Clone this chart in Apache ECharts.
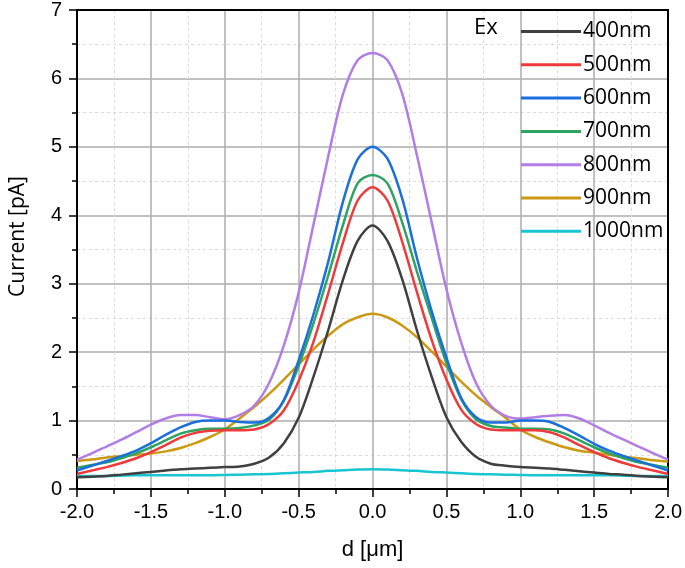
<!DOCTYPE html>
<html>
<head>
<meta charset="utf-8">
<script src="https://cdn.jsdelivr.net/npm/echarts@6/dist/echarts.min.js"></script>
<style>html,body{margin:0;padding:0;background:#fff}#c{width:685px;height:568px}</style>
</head>
<body>
<div id="c"></div>
<script>
const xValues = [-2.0,-1.9,-1.8,-1.7,-1.6,-1.5,-1.4,-1.3,-1.2,-1.1,-1.0,-0.9,-0.8,-0.7,-0.6,-0.5,-0.4,-0.3,-0.2,-0.1,
  0.0,0.1,0.2,0.3,0.4,0.5,0.6,0.7,0.8,0.9,1.0,1.1,1.2,1.3,1.4,1.5,1.6,1.7,1.8,1.9,2.0];
const seriesNames = ['400nm','500nm','600nm','700nm','800nm','900nm','1000nm'];
const s400 = [0.17,0.18,0.19,0.21,0.23,0.25,0.27,0.29,0.30,0.31,0.32,0.33,0.37,0.46,0.67,1.04,1.64,2.32,3.06,3.63,
  3.85,
  3.63,3.07,2.32,1.64,1.05,0.69,0.47,0.37,0.34,0.32,0.31,0.30,0.28,0.26,0.24,0.22,0.21,0.19,0.18,0.17];
const s500 = [0.22,0.27,0.32,0.38,0.45,0.54,0.64,0.75,0.82,0.85,0.86,0.86,0.87,0.95,1.15,1.58,2.15,2.86,3.60,4.22,
  4.41,
  4.22,3.62,2.88,2.18,1.60,1.16,0.95,0.87,0.86,0.86,0.86,0.83,0.75,0.64,0.54,0.45,0.38,0.32,0.27,0.22];
const s600 = [0.27,0.34,0.41,0.48,0.56,0.67,0.79,0.90,0.98,1.00,1.00,0.98,0.97,1.04,1.30,1.88,2.55,3.32,4.20,4.82,
  5.00,
  4.83,4.25,3.38,2.60,1.92,1.33,1.05,0.97,0.97,1.00,1.00,0.98,0.89,0.78,0.66,0.56,0.48,0.41,0.34,0.27];
const s700 = [0.31,0.35,0.39,0.45,0.52,0.61,0.71,0.81,0.86,0.88,0.88,0.89,0.93,1.01,1.29,1.80,2.42,3.12,3.86,4.47,
  4.59,
  4.47,3.90,3.18,2.50,1.84,1.31,1.02,0.92,0.90,0.88,0.88,0.87,0.81,0.71,0.61,0.52,0.45,0.39,0.35,0.31];
const s800 = [0.43,0.52,0.62,0.72,0.83,0.94,1.03,1.08,1.08,1.05,1.02,1.08,1.22,1.55,2.10,2.87,3.86,4.86,5.77,6.27,
  6.37,
  6.27,5.78,4.88,3.90,2.92,2.14,1.55,1.22,1.07,1.03,1.05,1.07,1.08,1.03,0.93,0.82,0.72,0.62,0.52,0.43];
const s900 = [0.41,0.43,0.46,0.48,0.50,0.52,0.55,0.60,0.67,0.76,0.87,1.03,1.20,1.39,1.60,1.82,2.04,2.24,2.41,2.51,
  2.56,
  2.51,2.39,2.22,2.01,1.79,1.57,1.37,1.20,1.04,0.87,0.76,0.68,0.61,0.56,0.53,0.50,0.47,0.45,0.42,0.40];
const s1000 = [0.19,0.19,0.19,0.195,0.20,0.20,0.20,0.20,0.20,0.20,0.205,0.21,0.215,0.22,0.23,0.24,0.25,0.265,0.275,0.285,
  0.29,
  0.285,0.275,0.265,0.25,0.24,0.23,0.22,0.215,0.21,0.205,0.20,0.20,0.20,0.20,0.20,0.20,0.195,0.19,0.19,0.19];
const xTicks = [-2.0,-1.5,-1.0,-0.5,0.0,0.5,1.0,1.5,2.0];
const yTicks = [0,1,2,3,4,5,6,7];

const allSeries = [s400,s500,s600,s700,s800,s900,s1000];
const colors = ['#404040','#ef3a3c','#1a6fdc','#2fa360','#b27ee6','#cc9912','#19c6cf'];

const chart = echarts.init(document.getElementById('c'));
const axisFont = {fontFamily:'Liberation Sans', fontSize:20, color:'#000'};
chart.setOption({
  animation:false,
  backgroundColor:'#fff',
  color: colors,
  title:{text:'Ex', left:469, top:12, textStyle:{fontFamily:'Open Sans', fontSize:22, fontWeight:'normal', color:'#000'}},
  legend:{
    data: seriesNames, orient:'vertical', left:516, top:16,
    icon:'rect', itemWidth:60, itemHeight:3, itemGap:12.3,
    textStyle:{fontFamily:'Open Sans', fontSize:21, lineHeight:20, color:'#000', padding:[0,0,0,-3]}
  },
  grid:{left:74, right:15, top:9, bottom:79, containLabel:false},
  xAxis:[{
    type:'value', min:xTicks[0], max:xTicks[xTicks.length-1], interval:0.5,
    name:'d [\u03bcm]', nameLocation:'middle', nameGap:50,
    nameTextStyle:{fontFamily:'Liberation Sans', fontSize:22, color:'#000'},
    axisLine:{show:true, onZero:false, lineStyle:{color:'#000', width:2}},
    axisTick:{show:true, inside:false, length:8, lineStyle:{color:'#000', width:1.5}},
    minorTick:{show:true, splitNumber:2, length:5, lineStyle:{color:'#000', width:1.5}},
    axisLabel:{...axisFont, margin:13, formatter:v=>v.toFixed(1)},
    splitLine:{show:true, lineStyle:{color:'#acacac', width:1.5}},
    minorSplitLine:{show:true, lineStyle:{color:'#dcdcdc', width:1, type:[3,3]}}
  },{
    type:'value', position:'top', min:-2, max:2,
    axisLine:{show:true, onZero:false, lineStyle:{color:'#000', width:2}},
    axisTick:{show:false}, axisLabel:{show:false}, splitLine:{show:false}
  }],
  yAxis:[{
    type:'value', min:yTicks[0], max:yTicks[yTicks.length-1], interval:1,
    name:'Current [pA]', nameLocation:'middle', nameGap:48,
    nameTextStyle:{fontFamily:'Open Sans', fontSize:21, color:'#000', padding:[0,0,0,26]},
    axisLine:{show:true, onZero:false, lineStyle:{color:'#000', width:2}},
    axisTick:{show:true, inside:false, length:8, lineStyle:{color:'#000', width:1.5}},
    minorTick:{show:true, splitNumber:2, length:5, lineStyle:{color:'#000', width:1.5}},
    axisLabel:{...axisFont, margin:15},
    splitLine:{show:true, lineStyle:{color:'#acacac', width:1.5}},
    minorSplitLine:{show:true, lineStyle:{color:'#dcdcdc', width:1, type:[3,3]}}
  },{
    type:'value', position:'right', min:0, max:7,
    axisLine:{show:true, onZero:false, lineStyle:{color:'#000', width:2}},
    axisTick:{show:false}, axisLabel:{show:false}, splitLine:{show:false}
  }],
  series: seriesNames.map((n,k)=>({
    name:n, type:'line', xAxisIndex:0, yAxisIndex:0,
    data: xValues.map((x,i)=>[x, allSeries[k][i]]),
    showSymbol:false, symbol:'none', smooth:0.3,
    lineStyle:{width:2.5, color:colors[k]}, itemStyle:{color:colors[k]},
    z: 10-k
  }))
});
</script>
</body>
</html>
